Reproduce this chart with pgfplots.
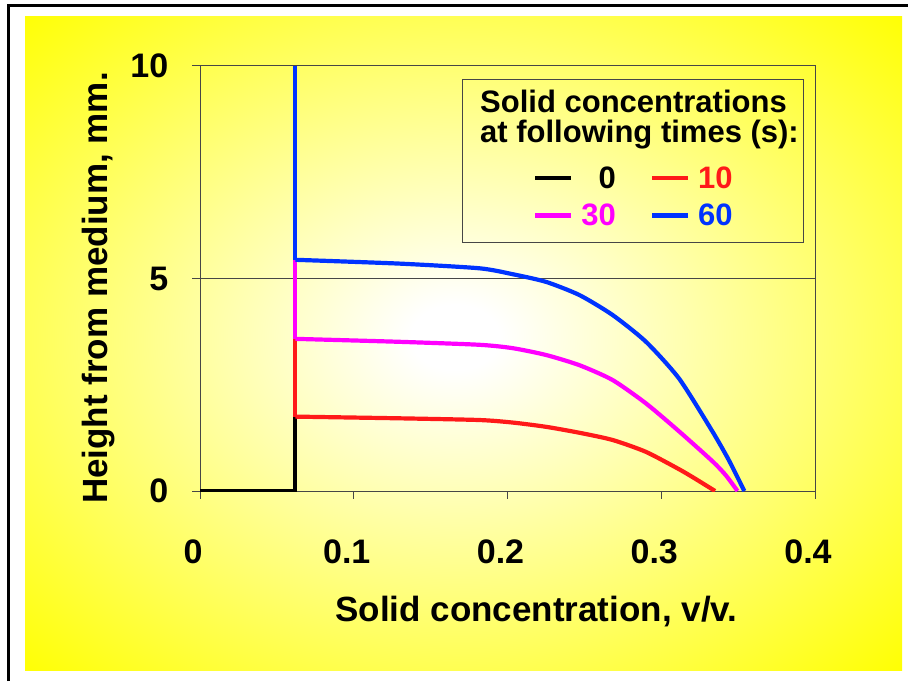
\documentclass[border=0pt]{standalone}
\usepackage{fontspec}
\setmainfont{Liberation Sans}
\usepackage{pgfplots}
\pgfplotsset{compat=1.18}
\definecolor{axgray}{RGB}{70,70,70}
\definecolor{lred}{RGB}{255,25,25}
\definecolor{lmag}{RGB}{255,0,255}
\definecolor{lblue}{RGB}{0,51,255}
\pgfdeclareradialshading{glow}{\pgfpoint{-0.5bp}{0.5bp}}{color(0bp)=(white); color(2.5bp)=(white); color(36bp)=(yellow); color(50bp)=(yellow)}
\begin{document}
\begin{tikzpicture}[x=1pt,y=1pt]
\useasboundingbox (0,0) rectangle (908,681);
\fill[white] (0,0) rectangle (908,681);
\shade[shading=glow] (25,11) rectangle (902,664);
\draw[line width=2.5pt] (8.5,0) -- (8.5,675.5) -- (908,675.5);
\begin{axis}[
  at={(200pt,190pt)}, anchor=south west,
  width=615pt, height=425pt, scale only axis,
  xmin=0, xmax=0.4, ymin=0, ymax=10,
  xtick={0,0.1,0.2,0.3,0.4}, xticklabels={0,0.1,0.2,0.3,0.4},
  ytick={0,5,10}, yticklabels={0,5,10},
  tick align=outside, tick pos=left,
  major tick length=7.5pt,
  ymajorgrids, grid style={axgray, line width=1pt},
  axis line style={axgray, line width=1pt},
  tick style={axgray, line width=1pt},
  /pgf/number format/assume math mode=true,
  ticklabel style={font=\fontsize{34}{40}\selectfont\bfseries},
  xticklabel style={anchor=center, inner sep=0pt, xshift=-7pt, yshift=-53pt},
  yticklabel style={anchor=east, inner sep=0pt, xshift=-24pt},
  xlabel={Solid concentration, v/v.},
  ylabel={Height from medium, mm.},
  label style={font=\fontsize{35}{42}\selectfont\bfseries},
  xlabel style={at={(axis description cs:0.547,-0.308)}, anchor=base, inner sep=0pt},
  ylabel style={at={(axis description cs:-0.1496,0.4776)}, anchor=base, inner sep=0pt},
  legend columns=2,
  legend cell align=right,
  legend image code/.code={\draw[#1, sharp plot] (0pt,0pt) -- (36pt,0pt);},
  legend style={at={(axis description cs:0.704,0.692)}, anchor=center,
    draw=none, fill=none, inner sep=0pt,
    font=\fontsize{31}{37}\selectfont\bfseries,
    nodes={inner sep=0pt},
    column sep=8pt, row sep=14pt,
    /tikz/every even column/.append style={column sep=34pt}},
]
\addplot[black, line width=4.2pt, line join=miter] coordinates {(0,0) (0.062,0) (0.062,10)};
\addlegendentry{\textcolor{black}{0}}
\addplot[lred, line width=4.2pt, smooth, tension=0.4] coordinates {(0.335,0) (0.3225,0.28) (0.3117,0.51) (0.2901,0.92) (0.2684,1.2) (0.2468,1.37) (0.2251,1.51) (0.2035,1.61) (0.1818,1.67) (0.13,1.71) (0.062,1.75)};
\addlegendentry{\textcolor{lred}{10}}
\addplot[lred, line width=4.2pt, forget plot] coordinates {(0.062,1.75) (0.062,10)};
\addplot[lmag, line width=4.2pt, smooth, tension=0.4] coordinates {(0.3496,0) (0.342,0.37) (0.3333,0.70) (0.3117,1.40) (0.2901,2.06) (0.2684,2.61) (0.2468,2.96) (0.2251,3.2) (0.2035,3.36) (0.1818,3.44) (0.13,3.51) (0.062,3.58)};
\addlegendentry{\textcolor{lmag}{30}}
\addplot[lmag, line width=4.2pt, forget plot] coordinates {(0.062,3.58) (0.062,10)};
\addplot[lblue, line width=4.2pt, smooth, tension=0.4] coordinates {(0.354,0) (0.3442,0.71) (0.3333,1.40) (0.3117,2.64) (0.2901,3.51) (0.2684,4.14) (0.2468,4.61) (0.2251,4.92) (0.2035,5.1) (0.1818,5.24) (0.13,5.35) (0.062,5.44)};
\addlegendentry{\textcolor{lblue}{60}}
\addplot[lblue, line width=4.2pt, forget plot] coordinates {(0.062,5.44) (0.062,10)};
\end{axis}
\draw[axgray, line width=1pt] (462,438) rectangle (803,601);
\node[anchor=base west, inner sep=0pt, font=\fontsize{31}{37}\selectfont\bfseries] at (480,568) {Solid concentrations};
\node[anchor=base west, inner sep=0pt, font=\fontsize{31}{37}\selectfont\bfseries] at (480,538) {at following times (s):};
\end{tikzpicture}
\end{document}
